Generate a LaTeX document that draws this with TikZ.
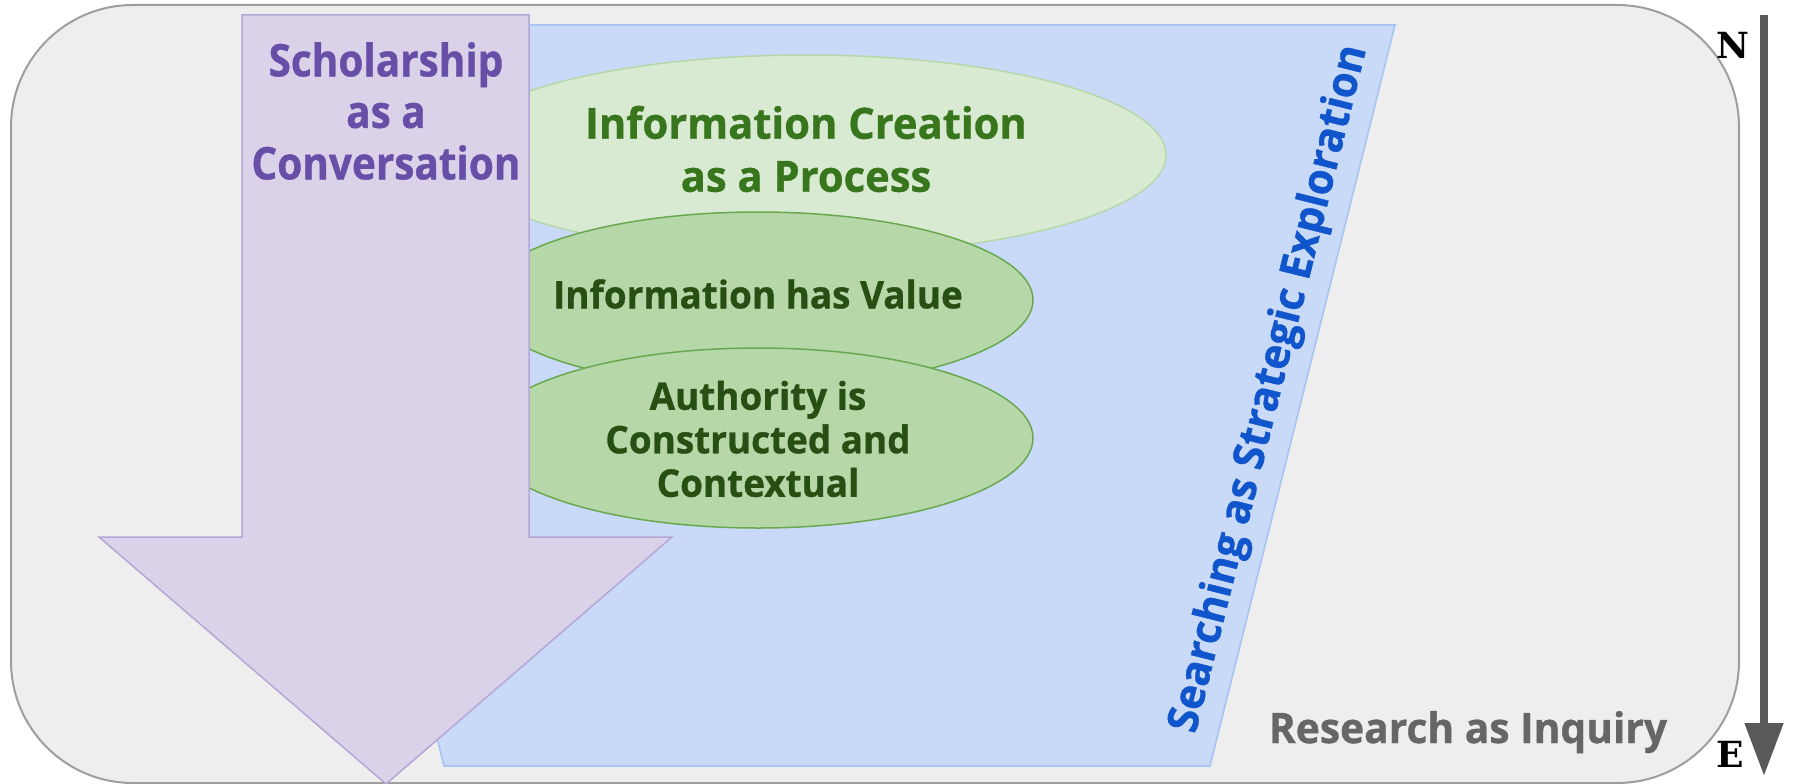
\documentclass[tikz,border=0pt]{standalone}
\usepackage{fontspec}
\setmainfont{Open Sans}[FakeStretch=0.97,BoldFeatures={FakeBold=0.8}]
\newfontfamily\narrowfont{Open Sans}[FakeStretch=0.9,BoldFeatures={FakeBold=0.8}]
\newfontfamily\slabfont{DejaVu Serif}
\usepackage{tikz}
\usetikzlibrary{arrows.meta,calc,positioning,shapes.geometric}
\definecolor{framefill}{HTML}{EEEEEE}
\definecolor{frameline}{HTML}{9E9E9E}
\definecolor{lensfill}{HTML}{C9DAF8}
\definecolor{lensline}{HTML}{A4C2F4}
\definecolor{lenstext}{HTML}{1155CC}
\definecolor{convofill}{HTML}{D9D2E9}
\definecolor{convoline}{HTML}{B4A7D6}
\definecolor{convotext}{HTML}{674EA7}
\definecolor{palefill}{HTML}{D9EAD3}
\definecolor{paleline}{HTML}{B6D7A8}
\definecolor{paletext}{HTML}{38761D}
\definecolor{leaffill}{HTML}{B6D7A8}
\definecolor{leafline}{HTML}{6AA84F}
\definecolor{leaftext}{HTML}{274E13}
\definecolor{inquirytext}{HTML}{666666}
\definecolor{compass}{HTML}{595959}

\begin{document}
\begin{tikzpicture}[x=1pt,y=-1pt,
  frame/.style={draw=frameline,fill=framefill,line width=2pt,rounded corners=122pt},
  lens/.style={draw=lensline,fill=lensfill,line width=1.5pt},
  convo/.style={draw=convoline,fill=convofill,line width=1.5pt},
  blob/.style={ellipse,inner sep=0pt,line width=1.5pt},
  pale/.style={blob,draw=paleline,fill=palefill},
  leaf/.style={blob,draw=leafline,fill=leaffill,minimum width=550pt},
  tag/.style={font=\bfseries\fontsize{#1}{#1}\selectfont,inner sep=0pt,align=center},
  narrow tag/.style={font=\narrowfont\bfseries\fontsize{#1}{#1}\selectfont,inner sep=0pt,align=center},
  compass label/.style={font=\slabfont\bfseries\fontsize{36}{36}\selectfont,inner sep=0pt}]
  \useasboundingbox (0,0) rectangle (1793,784);
  % inquiry frame
  \draw [frame] (11,5) rectangle (1739,783);
  \node [tag=42,text=inquirytext,anchor=base] (inquiry) at (1468,743) {Research as Inquiry};
  % searching lens
  \draw [lens] (259,25) -- (1395,25) -- (1210,766) -- (444,766) -- cycle;
  \node [tag=43,text=lenstext,rotate=76] (search) at (1270,389) {Searching as Strategic Exploration};
  % frames in the middle
  \node [pale,minimum width=720pt,minimum height=200pt] (create) at (806,155) {};
  \node [leaf,minimum height=176pt] (value) at (758,300) {};
  \node [leaf,minimum height=180pt] (authority) at (758,438) {};
  \node [tag=43,text=paletext] at ($(create)+(0,-6)$) {Information Creation\\[10pt]as a Process};
  \node [tag=38,text=leaftext] at ($(value)+(0,-6)$) {Information has Value};
  \node [tag=38,text=leaftext] at ($(authority)+(0,1)$) {Authority is\\[5.5pt]Constructed and\\[5.5pt]Contextual};
  % conversation arrow
  \draw [convo] (242,15) -- (529,15) -- (529,537) -- (672,537) -- (386,784) -- (99,537) -- (242,537) -- cycle;
  \node [narrow tag=45,text=convotext] (convo) at (386,111) {Scholarship\\[6.5pt]as a\\[6.5pt]Conversation};
  % N to E
  \coordinate (ntop) at (1764,15);
  \coordinate (etip) at (1764,776);
  \draw [compass,line width=8pt,-{Triangle[width=37pt,length=53pt]}] (ntop) -- (etip);
  \node [compass label,below left=17pt and 14pt of ntop] (N) {N};
  \node [compass label,above left=8pt and 20pt of etip] (E) {E};
\end{tikzpicture}
\end{document}
